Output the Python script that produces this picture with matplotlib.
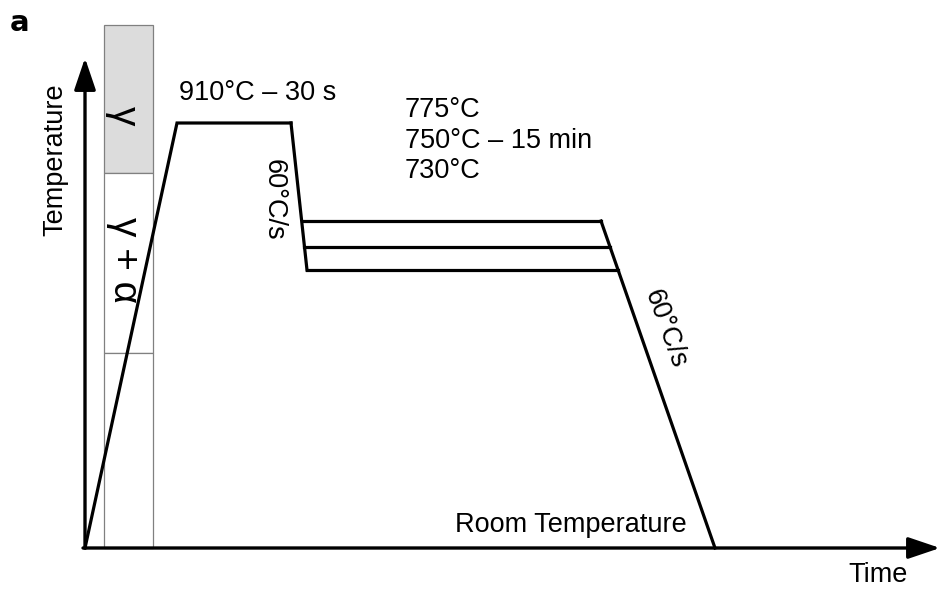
# heat treatment schedule: intercritical annealing
import numpy as np
import matplotlib.pyplot as plt
from matplotlib.patches import Rectangle

plt.rcParams['font.family'] = ['Liberation Sans', 'DejaVu Sans']

# schematic units: time to the right, temperature up (room temperature = 0)
t_heat_end = 92
t_hold_end = 206
t_quench_end = 222
t_cool_start = 516
t_cool_end = 630

peak_level = 425
hold_levels = [327, 301, 278]          # 775, 750, 730 °C
hold_labels = ['775°C', '750°C – 15 min', '730°C']
ac3_level = 375
ac1_level = 195
box_top = 523
box_left, box_right = 19, 68

quench_t = [t_hold_end, t_quench_end]
quench_T = [peak_level, hold_levels[-1]]
cool_t = [t_cool_start, t_cool_end]
cool_T = [hold_levels[0], 0]

fig = plt.figure(figsize=(9.41, 5.92), dpi=100)
ax = fig.add_axes([0, 0, 1, 1])
ax.set_xlim(-85, 856)
ax.set_ylim(-44, 548)
ax.axis('off')

# phase field boxes next to the temperature axis
ax.add_patch(Rectangle((box_left, ac3_level), box_right - box_left, box_top - ac3_level,
                       facecolor='#dcdcdc', edgecolor='#808080', lw=0.9))
ax.add_patch(Rectangle((box_left, ac1_level), box_right - box_left, ac3_level - ac1_level,
                       facecolor='white', edgecolor='#808080', lw=0.9))
ax.add_patch(Rectangle((box_left, 0), box_right - box_left, ac1_level,
                       facecolor='white', edgecolor='#808080', lw=0.9))

# axes as arrows
arrow = dict(arrowstyle='-|>,head_length=0.65,head_width=0.22', lw=2.4, color='k',
             shrinkA=0, shrinkB=0, mutation_scale=30)
ax.annotate('', xy=(0, 490), xytext=(0, 0), arrowprops=arrow, annotation_clip=False)
ax.annotate('', xy=(855, 0), xytext=(-2, 0), arrowprops=arrow, annotation_clip=False)

lw = 2.3
# heating and austenitising hold
ax.plot([0, t_heat_end, t_hold_end], [0, peak_level, peak_level], color='k', lw=lw,
        solid_joinstyle='miter')
# quench to intercritical temperatures
ax.plot(quench_t, quench_T, color='k', lw=lw)
# isothermal holds, each between quench line and final cooling line
for lev in hold_levels:
    t0 = np.interp(lev, quench_T[::-1], quench_t[::-1])
    t1 = np.interp(lev, cool_T[::-1], cool_t[::-1])
    ax.plot([t0, t1], [lev, lev], color='k', lw=lw)
# final cooling to room temperature
ax.plot(cool_t, cool_T, color='k', lw=lw)

fs = 19.5
ax.text(94, 448, '910°C – 30 s', fontsize=fs, ha='left', va='baseline')
for lab, y in zip(hold_labels, [430.7, 399.7, 369.7]):
    ax.text(320, y, lab, fontsize=fs, ha='left', va='baseline')
ax.text(370, 16.3, 'Room Temperature', fontsize=fs, ha='left', va='baseline')
ax.text(763, -33.7, 'Time', fontsize=fs, ha='left', va='baseline')
ax.text(-30, 388, 'Temperature', fontsize=fs, rotation=90, ha='center', va='center')
ax.text(189, 348.5, '60°C/s', fontsize=fs, rotation=-90, ha='center', va='center')
ax.text(580, 219.5, '60°C/s', fontsize=fs, rotation=-70, ha='center', va='center')

ax.text(38, 432, 'γ', fontsize=28, rotation=-90, ha='center', va='center')
ax.text(39, 288, 'γ + α', fontsize=28, rotation=-90, ha='center', va='center')

fig.text(10 / 941, 1 - 9 / 592, 'a', fontsize=21, fontweight='bold', family='DejaVu Sans',
         ha='left', va='top')

fig.savefig('out.png', dpi=100)
